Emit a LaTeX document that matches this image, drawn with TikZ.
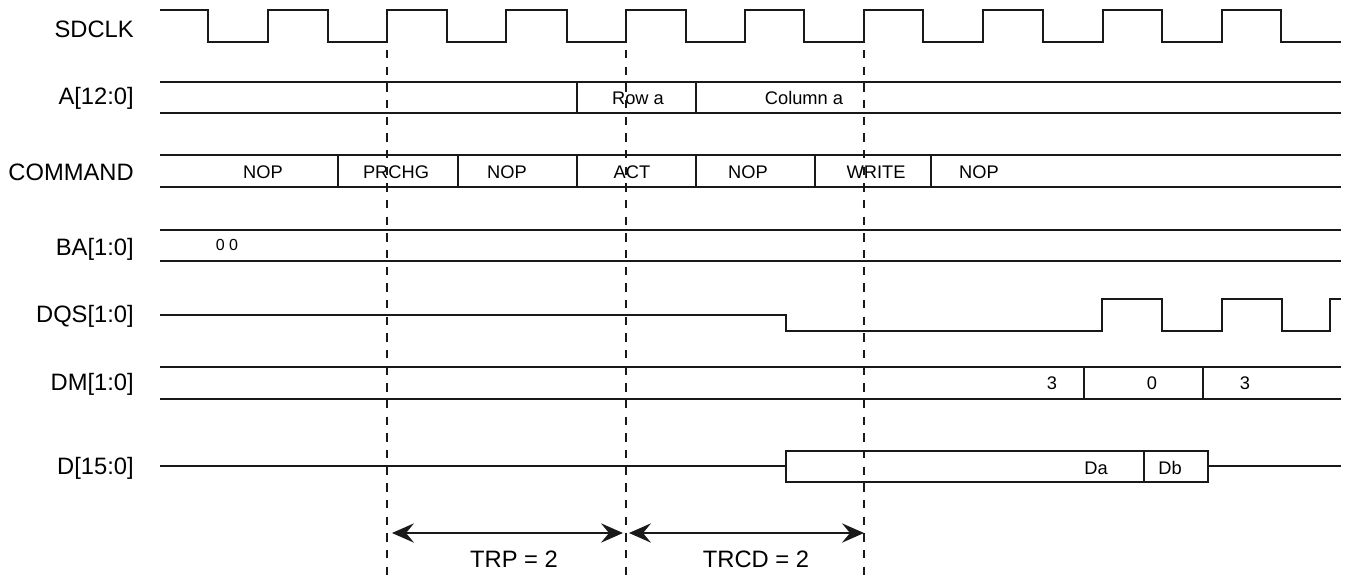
\documentclass[tikz,border=0pt]{standalone}
\usepackage{fontspec}
\setmainfont{Liberation Sans}
\usetikzlibrary{arrows.meta}
\begin{document}
\begin{tikzpicture}[x=0.75pt,y=-0.75pt,
  sig/.style={line width=1.2pt, line join=miter, color=black!90},
  gridline/.style={line width=1.1pt, color=black!90, dash pattern=on 6.3pt off 6.2pt},
  lbl/.style={anchor=east, inner sep=0pt, font=\fontsize{17.8}{20}\selectfont},
  val/.style={inner sep=0pt, font=\fontsize{13.7}{16}\selectfont},
  small/.style={inner sep=0pt, font=\fontsize{12}{14}\selectfont},
  dimarrow/.style={line width=1.2pt, color=black!90,
    {Stealth[length=16.5pt,width=14.5pt,inset=6pt]}-{Stealth[length=16.5pt,width=14.5pt,inset=6pt]}},
]
\useasboundingbox (0,0) rectangle (1346,578);

% labels
\node[lbl] (lclk) at (134,29) {SDCLK};
\node[lbl] (la) at (134,98) {A[12:0]};
\node[lbl] (lcmd) at (134,172) {COMMAND};
\node[lbl] (lba) at (134,249) {BA[1:0]};
\node[lbl] (ldqs) at (134,316) {DQS[1:0]};
\node[lbl] (ldm) at (134,384) {DM[1:0]};
\node[lbl] (ld) at (134,468) {D[15:0]};

% clock
\draw[sig] (160,10) -| (208,42) -| (268,10) -| (328,42) -| (387,10) -| (447,42)
  -| (506,10) -| (567,42) -| (626,10) -| (686,42) -| (745,10) -| (804,42)
  -| (864,10) -| (923,42) -| (983,10) -| (1043,42) -| (1103,10) -| (1162,42)
  -| (1222,10) -| (1281,42) -- (1341,42);

% A bus
\draw[sig] (160,82) -- (1341,82) (160,113) -- (1341,113)
  (577,82) -- (577,113) (696,82) -- (696,113);
\node[val] (rowa) at (638,98) {Row a};
\node[val] (cola) at (804,98) {Column a};

% COMMAND bus
\draw[sig] (160,155) -- (1341,155) (160,187) -- (1341,187);
\foreach \xx in {338,458,577,696,815,931} \draw[sig] (\xx,155) -- (\xx,187);
\node[val] (c1) at (263,172) {NOP};
\node[val] (c2) at (396,172) {PRCHG};
\node[val] (c3) at (507,172) {NOP};
\node[val] (c4) at (632,172) {ACT};
\node[val] (c5) at (748,172) {NOP};
\node[val] (c6) at (876,172) {WRITE};
\node[val] (c7) at (979,172) {NOP};

% BA bus
\draw[sig] (160,230) -- (1341,230) (160,261) -- (1341,261);
\node[small] (ba) at (227,245) {0 0};

% DQS
\draw[sig] (160,315) -| (786,331) -| (1102,299) -| (1162,331) -| (1222,299)
  -| (1282,331) -| (1330,299) -- (1341,299);

% DM bus
\draw[sig] (160,367) -- (1341,367) (160,399) -- (1341,399)
  (1084,367) -- (1084,399) (1203,367) -- (1203,399);
\node[val] (dm1) at (1052,383) {3};
\node[val] (dm2) at (1152,383) {0};
\node[val] (dm3) at (1245,383) {3};

% D bus
\draw[sig] (160,466) -- (786,466) (786,451) rectangle (1208,482)
  (1144,451) -- (1144,482) (1208,466) -- (1341,466);
\node[val] (da) at (1096,468) {Da};
\node[val] (db) at (1170,468) {Db};

% dashed reference lines
\coordinate (t1) at (387,50); \coordinate (b1) at (387,578);
\coordinate (t2) at (626,50); \coordinate (b2) at (626,578);
\coordinate (t3) at (864,50); \coordinate (b3) at (864,578);
\draw[gridline] (t1) -- (b1);
\draw[gridline] (t2) -- (b2);
\draw[gridline] (t3) -- (b3);

% timing arrows
\coordinate (a1) at (392,533); \coordinate (a2) at (623,533);
\coordinate (a3) at (629,533); \coordinate (a4) at (864,533);
\draw[dimarrow] (a1) -- (a2);
\draw[dimarrow] (a3) -- (a4);
\node[inner sep=0pt, font=\fontsize{17.8}{20}\selectfont] (trp) at (514,559) {TRP = 2};
\node[inner sep=0pt, font=\fontsize{17.8}{20}\selectfont] (trcd) at (756,559) {TRCD = 2};
\end{tikzpicture}
\end{document}
